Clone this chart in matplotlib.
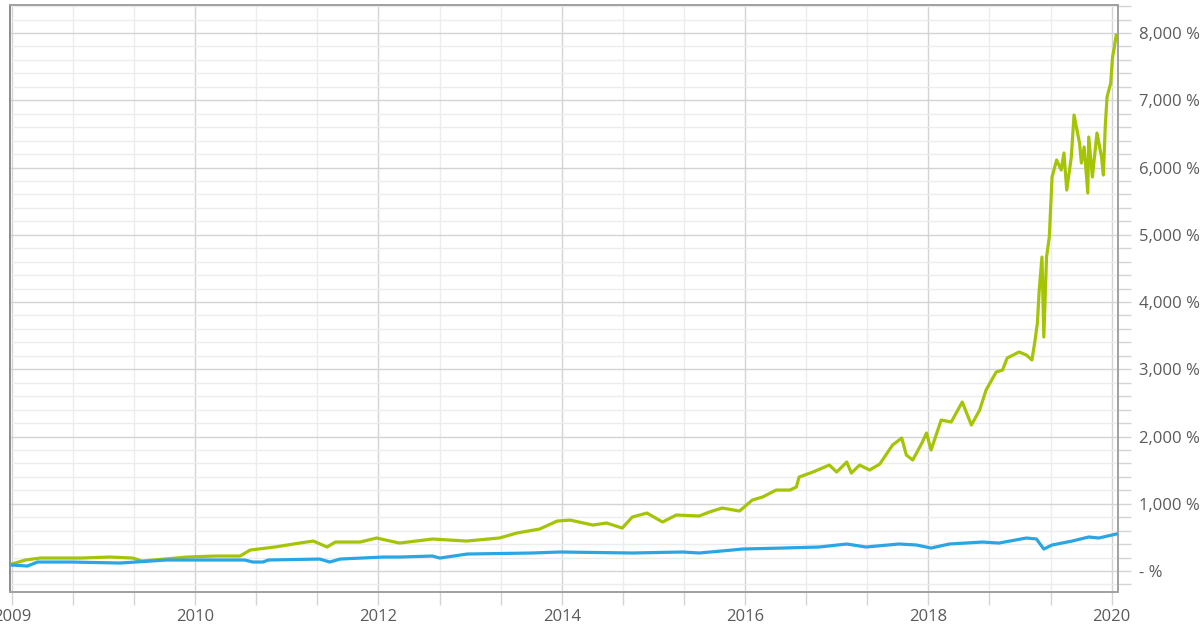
import matplotlib
matplotlib.use("Agg")
import matplotlib.pyplot as plt
from matplotlib.ticker import FixedLocator, FuncFormatter

# Données (année décimale, rendement cumulé en %)
green_years = [
    2008.00, 2008.15, 2008.31, 2008.75, 2009.07, 2009.32, 2009.42, 2009.67, 2009.91,
    2010.22, 2010.49, 2010.60, 2010.87, 2011.14, 2011.29, 2011.44, 2011.53, 2011.80,
    2011.98, 2012.13, 2012.23, 2012.59, 2012.96, 2013.32, 2013.51, 2013.76, 2013.95,
    2014.09, 2014.34, 2014.49, 2014.66, 2014.77, 2014.93, 2015.10, 2015.25, 2015.50,
    2015.61, 2015.75, 2015.94, 2016.08, 2016.19, 2016.34, 2016.49, 2016.56, 2016.59,
    2016.74, 2016.92, 2017.00, 2017.11, 2017.16, 2017.25, 2017.36, 2017.47, 2017.61,
    2017.71, 2017.76, 2017.83, 2017.93, 2017.98, 2018.03, 2018.14, 2018.25, 2018.37,
    2018.47, 2018.56, 2018.63, 2018.74, 2018.81, 2018.86, 2018.99, 2019.07, 2019.13,
    2019.16, 2019.19, 2019.21, 2019.24, 2019.26, 2019.29, 2019.32, 2019.34, 2019.35,
    2019.40, 2019.45, 2019.48, 2019.51, 2019.56, 2019.59, 2019.65, 2019.67, 2019.70,
    2019.74, 2019.75, 2019.79, 2019.84, 2019.89, 2019.91, 2019.93, 2019.95, 2019.99,
    2020.01, 2020.03, 2020.05,
]
green_values = [
    104, 164, 193, 193, 208, 193, 149, 178, 208,
    223, 223, 312, 357, 416, 446, 357, 431, 431,
    491, 446, 416, 476, 446, 491, 565, 625, 743,
    758, 684, 714, 639, 803, 862, 729, 833, 818,
    877, 937, 892, 1056, 1100, 1204, 1204, 1249, 1398,
    1472, 1576, 1472, 1621, 1457, 1576, 1502, 1591, 1874,
    1978, 1725, 1651, 1903, 2052, 1799, 2245, 2216, 2513,
    2171, 2394, 2691, 2959, 2989, 3167, 3257, 3212, 3138,
    3390, 3688, 4178, 4669, 3480, 4669, 4967, 5561, 5859,
    6112, 5963, 6216, 5665, 6156, 6781, 6364, 6067, 6305,
    5621, 6454, 5859, 6513, 6156, 5888, 6602, 7048, 7257,
    7643, 7792, 7970,
]

blue_years = [
    2008.00, 2008.17, 2008.28, 2008.64, 2009.18, 2009.69, 2010.54, 2010.63, 2010.74,
    2010.80, 2011.36, 2011.47, 2011.58, 2012.05, 2012.23, 2012.59, 2012.67, 2012.97,
    2013.68, 2013.98, 2014.77, 2015.32, 2015.50, 2015.86, 2015.97, 2016.41, 2016.81,
    2017.11, 2017.32, 2017.68, 2017.87, 2018.03, 2018.23, 2018.59, 2018.77, 2019.07,
    2019.18, 2019.26, 2019.35, 2019.57, 2019.75, 2019.86, 2020.05,
]
blue_values = [
    89, 74, 134, 134, 119, 164, 164, 134, 134,
    164, 178, 134, 178, 208, 208, 223, 193, 253,
    268, 283, 268, 283, 268, 312, 327, 342, 357,
    402, 357, 402, 387, 342, 402, 431, 416, 491,
    476, 327, 387, 446, 506, 491, 550,
]

x_tick_pos = [2008, 2010, 2012, 2014, 2016, 2018, 2020]
x_tick_labels = ["2009", "2010", "2012", "2014", "2016", "2018", "2020"]
y_ticks = [0, 1000, 2000, 3000, 4000, 5000, 6000, 7000, 8000]

text_color = "#5b5b5b"
plt.rcParams["font.family"] = ["Open Sans", "DejaVu Sans"]

fig = plt.figure(figsize=(12, 6.3), dpi=100)
ax = fig.add_axes([0.0083, 0.0603, 0.9234, 0.9317])

ax.plot(green_years, green_values, color="#a6c406", lw=2.3, zorder=3)
ax.plot(blue_years, blue_values, color="#2aa6e4", lw=2.3, zorder=3)

ax.set_xlim(2007.98, 2020.07)
ax.set_ylim(-312, 8416)

# Axe des x : graduations majeures tous les 2 ans, mineures tous les 8 mois
ax.xaxis.set_major_locator(FixedLocator(x_tick_pos))
ax.set_xticklabels(x_tick_labels)
minor_x = [2008 + i * 2 / 3 for i in range(19)]
ax.xaxis.set_minor_locator(FixedLocator(minor_x))

# Axe des y à droite
ax.yaxis.tick_right()
ax.yaxis.set_major_locator(FixedLocator(y_ticks))
ax.yaxis.set_minor_locator(FixedLocator(list(range(-200, 8401, 200))))


def format_pct(v, _pos):
    if v == 0:
        return "- %"
    return f"{int(v):,} %"


ax.yaxis.set_major_formatter(FuncFormatter(format_pct))

ax.grid(which="major", color="#d4d4d4", lw=1.0, zorder=0)
ax.grid(which="minor", color="#ececec", lw=1.0, zorder=0)

ax.tick_params(axis="both", which="both", colors="#d4d4d4", length=9, width=1.0,
               labelcolor=text_color, labelsize=12)
ax.tick_params(axis="y", which="both", pad=6)
ax.tick_params(axis="x", which="both", pad=3)

for spine in ax.spines.values():
    spine.set_color("#a0a0a0")
    spine.set_linewidth(1.4)
ax.spines["left"].set_color("#8c8c8c")

fig.savefig("out.png", dpi=100)
